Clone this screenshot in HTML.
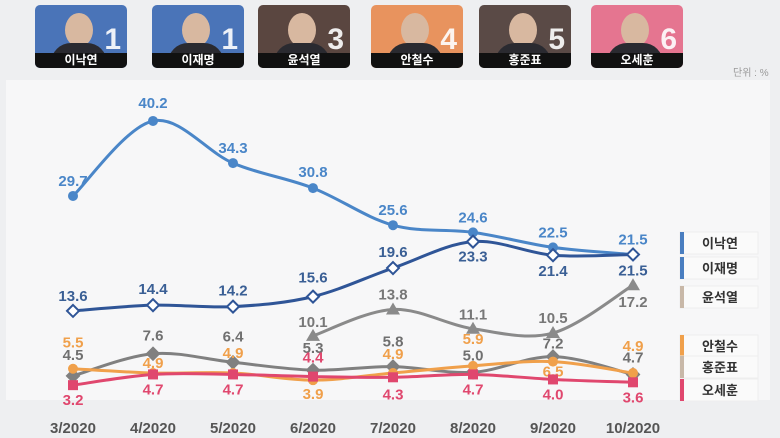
<!DOCTYPE html>
<html><head><meta charset="utf-8">
<style>
body{margin:0;width:780px;height:438px;overflow:hidden;background:#eeeff1;font-family:"Liberation Sans","Noto Sans CJK KR",sans-serif;}
.card{position:absolute;top:5px;width:92px;height:63px;border-radius:5px;overflow:hidden;}
.card .num{position:absolute;right:6px;top:18px;color:#fff;font-size:30px;font-weight:bold;opacity:.9}
.card .nm{position:absolute;left:0;right:0;bottom:0;height:15px;background:#111;color:#fff;font-size:12px;font-weight:bold;text-align:center;line-height:15px}
.card .face{position:absolute;left:30px;top:8px;width:28px;height:34px;border-radius:50%;background:#d8b8a0}
.card .body{position:absolute;left:16px;top:38px;width:56px;height:20px;border-radius:20px 20px 0 0;background:#2a2a30}
</style></head><body>
<div class="card" style="left:35px;background:#4a74b8"><div class="face"></div><div class="body"></div><div class="num">1</div><div class="nm">이낙연</div></div>
<div class="card" style="left:152px;background:#4a74b8"><div class="face"></div><div class="body"></div><div class="num">1</div><div class="nm">이재명</div></div>
<div class="card" style="left:258px;background:#5a4640"><div class="face"></div><div class="body"></div><div class="num">3</div><div class="nm">윤석열</div></div>
<div class="card" style="left:371px;background:#e8935e"><div class="face"></div><div class="body"></div><div class="num">4</div><div class="nm">안철수</div></div>
<div class="card" style="left:479px;background:#5a4a46"><div class="face"></div><div class="body"></div><div class="num">5</div><div class="nm">홍준표</div></div>
<div class="card" style="left:591px;background:#e57590"><div class="face"></div><div class="body"></div><div class="num">6</div><div class="nm">오세훈</div></div>
<div style="position:absolute;left:733px;top:64px;font-size:10px;color:#999">단위 : %</div>
<div style="position:absolute;left:6px;top:80px;width:764px;height:320px;background:#f7f7f8"></div>
<svg id="chart" width="780" height="438" style="position:absolute;left:0;top:0" xmlns="http://www.w3.org/2000/svg"></svg>
<script>
const months=["3/2020","4/2020","5/2020","6/2020","7/2020","8/2020","9/2020","10/2020"];
const leeNY=[29.7,40.2,34.3,30.8,25.6,24.6,22.5,21.5];
const leeJM=[13.6,14.4,14.2,15.6,19.6,23.3,21.4,21.5];
const yoon=[null,null,null,10.1,13.8,11.1,10.5,17.2];
const ahn=[5.5,4.9,4.9,3.9,4.9,5.9,6.5,4.9];
const hong=[4.5,7.6,6.4,5.3,5.8,5.0,7.2,4.7];
const oh=[3.2,4.7,4.7,4.4,4.3,4.7,4.0,3.6];
const svg=document.getElementById('chart');const NS="http://www.w3.org/2000/svg";
const X=i=>73+i*80, Y=v=>408-v*7.14;
function mk(t,a,p){const e=document.createElementNS(NS,t);for(const k in a)e.setAttribute(k,a[k]);(p||svg).appendChild(e);return e;}
const series=[
 {name:"lee-nakyon",d:leeNY,c:"#4a86c8",m:"circle",fill:"#4a86c8",lc:"#4a86c8",off:[-10,-13,-10,-11,-10,-10,-10,-10]},
 {name:"lee-jaemyung",d:leeJM,c:"#2f5597",m:"diamond",fill:"#fff",lc:"#3a5f95",off:[-10,-11,-11,-14,-11,20,21,21]},
 {name:"yoon",d:yoon,c:"#8a8a8a",m:"tri",fill:"#8a8a8a",lc:"#777",off:[0,0,0,-9,-10,-9,-10,22]},
 {name:"ahn",d:ahn,c:"#f0a04b",m:"circle",fill:"#f0a04b",lc:"#f0a04b",off:[-21,-5,-15,19,-14,-22,15,-22]},
 {name:"hong",d:hong,c:"#808080",m:"diamond",fill:"#808080",lc:"#707070",off:[-16,-13,-21,-17,-20,-12,-8,-12]},
 {name:"oh",d:oh,c:"#e0476e",m:"square",fill:"#e0476e",lc:"#e0476e",off:[20,20,20,-14,22,20,20,20]}];
const draw=[2,4,3,5,0,1];
draw.forEach(si=>{const s=series[si];const pts=[];s.d.forEach((v,i)=>{if(v!=null)pts.push([X(i),Y(v)]);});
 let p="M"+pts[0][0]+","+pts[0][1];
 for(let i=0;i<pts.length-1;i++){const p0=pts[Math.max(0,i-1)],p1=pts[i],p2=pts[i+1],p3=pts[Math.min(pts.length-1,i+2)];
  p+=` C${p1[0]+(p2[0]-p0[0])/6},${p1[1]+(p2[1]-p0[1])/6} ${p2[0]-(p3[0]-p1[0])/6},${p2[1]-(p3[1]-p1[1])/6} ${p2[0]},${p2[1]}`;}
 const l=mk('path',{d:p,fill:"none",stroke:s.c,"stroke-width":3});
 
 
 s.d.forEach((v,i)=>{if(v==null)return;const x=X(i),y=Y(v);let m;
  if(s.m=="circle")m=mk('circle',{cx:x,cy:y,r:5,fill:s.fill});
  else if(s.m=="square")m=mk('rect',{x:x-5,y:y-5,width:10,height:10,fill:s.fill});
  else if(s.m=="tri")m=mk('polygon',{points:`${x},${y-7} ${x+7},${y+5} ${x-7},${y+5}`,fill:s.fill});
  else m=mk('polygon',{points:`${x},${y-6} ${x+6},${y} ${x},${y+6} ${x-6},${y}`,fill:s.fill,stroke:s.c,"stroke-width":2});
  
  
  const t=mk('text',{x:x,y:y+s.off[i],"text-anchor":"middle","font-size":15,"font-weight":"bold",fill:s.lc});t.textContent=v.toFixed(1);
  
  });});
months.forEach((m,i)=>{const t=mk('text',{x:X(i),y:433,"text-anchor":"middle","font-size":15,"font-weight":"bold",fill:"#555"});t.textContent=m;
 
 });
const legNames=["이낙연","이재명","윤석열","안철수","홍준표","오세훈"];
const legY=[243,268,297,346,367,390];const legC=["#4a7ec0","#4a7ec0","#c8b8a8","#f0a04b","#c8b8a8","#e0476e"];
legNames.forEach((n,i)=>{const g=mk('g',{});
 
 
 mk('rect',{x:680,y:legY[i]-11,width:78,height:22,fill:"#fafafa",stroke:"#eee"},g);
 mk('rect',{x:680,y:legY[i]-11,width:4,height:22,fill:legC[i]},g);
 const t=mk('text',{x:720,y:legY[i]+5,"text-anchor":"middle","font-size":13,"font-weight":"bold",fill:"#333"},g);t.textContent=n;});
</script>
</body></html>
